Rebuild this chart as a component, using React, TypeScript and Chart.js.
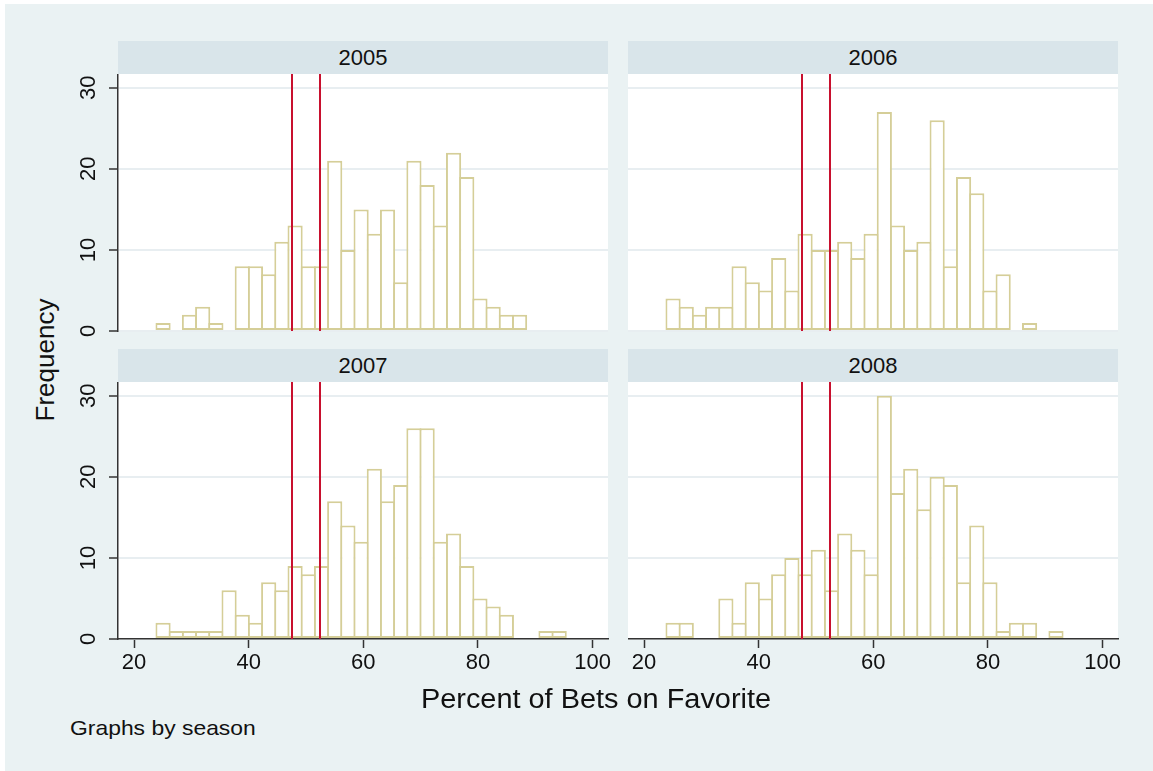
import React, { useEffect, useRef } from "react";
import { Chart, registerables } from "chart.js";

Chart.register(...registerables);

// ---- data ----
const seasons = ["2005", "2006", "2007", "2008"];
const binStart = 23.91;
const binWidth = 2.304;
const counts2005 = [1, 0, 2, 3, 1, 0, 8, 8, 7, 11, 13, 8, 8, 21, 10, 15, 12, 15, 6, 21, 18, 13, 22, 19, 4, 3, 2, 2, 0, 0, 0];
const counts2006 = [4, 3, 2, 3, 3, 8, 6, 5, 9, 5, 12, 10, 10, 11, 9, 12, 27, 13, 10, 11, 26, 8, 19, 17, 5, 7, 0, 1, 0, 0, 0];
const counts2007 = [2, 1, 1, 1, 1, 6, 3, 2, 7, 6, 9, 8, 9, 17, 14, 12, 21, 17, 19, 26, 26, 12, 13, 9, 5, 4, 3, 0, 0, 1, 1];
const counts2008 = [2, 2, 0, 0, 5, 2, 7, 5, 8, 10, 8, 11, 6, 13, 11, 8, 30, 18, 21, 16, 20, 19, 7, 14, 7, 1, 2, 2, 0, 1, 0];
const refLines = [47.62, 52.38];
const xTicks = [20, 40, 60, 80, 100];
const yTicks = [0, 10, 20, 30];
const xMin = 17.2;
const xMax = 102.7;
const yMax = 31.7;

const xTitle = "Percent of Bets on Favorite";
const yTitle = "Frequency";
const note = "Graphs by season";

// ---- styles ----
const FONT = '"Liberation Sans", Arial, Helvetica, sans-serif';
const BG = "#eaf2f3";
const STRIP = "#d9e5ea";
const GRID = "#e8eef1";
const BAR = "#d5ce98";
const RED = "#c8102e";
const AXIS = "#333333";

const PLOT_W = 490;
const PLOT_H = 257;

type PanelProps = {
  label: string;
  counts: number[];
  plotLeft: number;
  plotTop: number;
  showY: boolean;
  showX: boolean;
};

const whiteBg = {
  id: "whiteBg",
  beforeDraw(chart: any) {
    const { ctx, chartArea } = chart;
    ctx.save();
    ctx.fillStyle = "#ffffff";
    ctx.fillRect(chartArea.left, chartArea.top, chartArea.right - chartArea.left, chartArea.bottom - chartArea.top);
    ctx.restore();
  },
};

const refLinePlugin = {
  id: "refLinesDraw",
  afterDatasetsDraw(chart: any) {
    const { ctx, chartArea, scales } = chart;
    ctx.save();
    ctx.strokeStyle = RED;
    ctx.lineWidth = 2;
    refLines.forEach((v) => {
      const x = Math.round(scales.x.getPixelForValue(v));
      ctx.beginPath();
      ctx.moveTo(x, chartArea.top);
      ctx.lineTo(x, chartArea.bottom);
      ctx.stroke();
    });
    ctx.restore();
  },
};

function Panel({ label, counts, plotLeft, plotTop, showY, showX }: PanelProps) {
  const ref = useRef<HTMLCanvasElement | null>(null);
  const yAxisW = showY ? 58 : 0;
  const rightPad = showX ? 30 : 0;
  const xAxisH = showX ? 45 : 0;
  const bottomPad = showX ? 0 : 14;
  const canvasLeft = plotLeft - yAxisW;
  const cw = yAxisW + PLOT_W + rightPad;
  const ch = PLOT_H + xAxisH + bottomPad;

  useEffect(() => {
    if (!ref.current) return;
    const yLabelPlugin = {
      id: "yLabels",
      afterDraw(chart: any) {
        if (!showY) return;
        const { ctx, scales } = chart;
        ctx.save();
        ctx.fillStyle = "#111111";
        ctx.font = `22px ${FONT}`;
        ctx.textAlign = "center";
        ctx.textBaseline = "middle";
        yTicks.forEach((v) => {
          const y = scales.y.getPixelForValue(v);
          ctx.save();
          ctx.translate(89 - canvasLeft, y);
          ctx.rotate(-Math.PI / 2);
          ctx.fillText(String(v), 0, 0);
          ctx.restore();
        });
        ctx.restore();
      },
    };
    const chart = new Chart(ref.current, {
      type: "bar",
      data: {
        datasets: [
          {
            label,
            data: counts.map((c, i) => ({ x: binStart + binWidth * (i + 0.5), y: c })),
            backgroundColor: "#ffffff",
            borderColor: BAR,
            borderWidth: 2,
            borderSkipped: false,
            barPercentage: 1.15,
            categoryPercentage: 1,
          } as any,
        ],
      },
      options: {
        animation: false,
        responsive: false,
        maintainAspectRatio: false,
        events: [],
        layout: { padding: { left: 0, right: rightPad, top: 0, bottom: bottomPad } },
        plugins: { legend: { display: false }, tooltip: { enabled: false } },
        scales: {
          x: {
            type: "linear",
            min: xMin,
            max: xMax,
            offset: false,
            display: showX,
            afterBuildTicks: (s: any) => {
              s.ticks = xTicks.map((v) => ({ value: v }));
            },
            afterFit: (s: any) => {
              s.height = xAxisH;
            },
            grid: { offset: false, drawOnChartArea: false, drawTicks: true, tickLength: 9, tickColor: AXIS, tickWidth: 1.5 },
            border: { display: true, color: AXIS, width: 1.5 },
            ticks: { font: { family: FONT, size: 22 }, color: "#111111", padding: 2, maxRotation: 0, autoSkip: false },
          },
          y: {
            type: "linear",
            min: 0,
            max: yMax,
            display: true,
            afterBuildTicks: (s: any) => {
              s.ticks = yTicks.map((v) => ({ value: v }));
            },
            afterFit: (s: any) => {
              s.width = yAxisW;
            },
            grid: { color: GRID, lineWidth: 2, drawTicks: showY, tickLength: 9, tickColor: AXIS, tickWidth: 1.5 },
            border: { display: showY, color: AXIS, width: 1.5 },
            ticks: { display: false },
          },
        },
      } as any,
      plugins: [whiteBg, refLinePlugin, yLabelPlugin],
    });
    return () => chart.destroy();
  }, []);

  return (
    <canvas
      ref={ref}
      width={cw}
      height={ch}
      style={{ position: "absolute", left: canvasLeft, top: plotTop, width: cw, height: ch, display: "block" }}
    />
  );
}

function Strip({ text, left, top }: { text: string; left: number; top: number }) {
  return (
    <div
      style={{
        position: "absolute",
        left,
        top,
        width: PLOT_W,
        height: 33,
        background: STRIP,
        color: "#111",
        fontFamily: FONT,
        fontSize: 22,
        lineHeight: "33px",
        textAlign: "center",
      }}
    >
      {text}
    </div>
  );
}

export default function App() {
  const panels = [
    { label: seasons[0], counts: counts2005, plotLeft: 118, plotTop: 74, showY: true, showX: false },
    { label: seasons[1], counts: counts2006, plotLeft: 628, plotTop: 74, showY: false, showX: false },
    { label: seasons[2], counts: counts2007, plotLeft: 118, plotTop: 382, showY: true, showX: true },
    { label: seasons[3], counts: counts2008, plotLeft: 628, plotTop: 382, showY: false, showX: true },
  ];
  return (
    <div style={{ position: "absolute", left: 0, top: 0, width: 1153, height: 771, background: "#ffffff", overflow: "hidden" }}>
      <div style={{ position: "absolute", left: 5, top: 4, width: 1148, height: 767, background: BG }} />
      {panels.map((p) => (
        <Strip key={"s" + p.label} text={p.label} left={p.plotLeft} top={p.plotTop - 33} />
      ))}
      {panels.map((p) => (
        <Panel key={p.label} {...p} />
      ))}
      <div
        style={{
          position: "absolute",
          left: 45,
          top: 360,
          transform: "translate(-50%, -50%) rotate(-90deg)",
          fontFamily: FONT,
          fontSize: 26,
          color: "#111",
          whiteSpace: "nowrap",
          lineHeight: "30px",
        }}
      >
        {yTitle}
      </div>
      <div
        style={{
          position: "absolute",
          left: 596,
          top: 699,
          transform: "translate(-50%, -50%) scaleX(1.07)",
          fontFamily: FONT,
          fontSize: 27,
          color: "#111",
          whiteSpace: "nowrap",
          lineHeight: "32px",
        }}
      >
        {xTitle}
      </div>
      <div
        style={{
          position: "absolute",
          left: 70,
          top: 728,
          transform: "translateY(-50%) scaleX(1.09)",
          transformOrigin: "left center",
          fontFamily: FONT,
          fontSize: 21,
          color: "#111",
          whiteSpace: "nowrap",
          lineHeight: "26px",
        }}
      >
        {note}
      </div>
    </div>
  );
}
